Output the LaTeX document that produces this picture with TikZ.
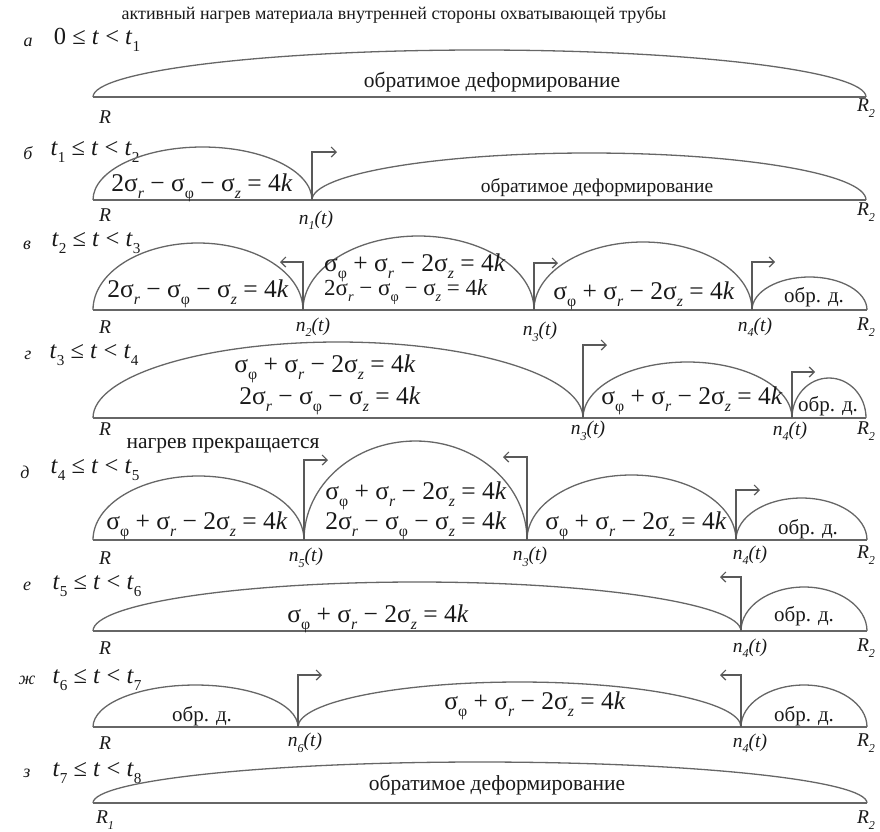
\documentclass[tikz,border=0pt]{standalone}
\usepackage{fontspec}
\setmainfont{Liberation Serif}
\usetikzlibrary{arrows.meta}
\newcommand\lo[1]{\raisebox{-.28em}{\scalebox{.62}{#1}}}
\newcommand\sg[1]{σ\lo{#1}}
\newcommand\fa{2\sg{\textit{r}} − \sg{φ} − \sg{\textit{z}} = 4\textit{k}}
\newcommand\fb{\sg{φ} + \sg{\textit{r}} − 2\sg{\textit{z}} = 4\textit{k}}
\newcommand\ti[1]{\textit{t}\lo{#1}}

\begin{document}
\begin{tikzpicture}[x=1pt, y=-1pt,
  curve/.style={line width=1.3pt, draw=black!60},
  mover/.style={line width=1.2pt, draw=black!65, -{Straight Barb[length=5pt,width=10pt]}},
  txt/.style={font=\fontsize{21.5}{21.5}\selectfont, text=black!90, inner sep=0pt},
  form/.style={font=\fontsize{25.5}{25.5}\selectfont, text=black!90, inner sep=0pt},
  sform/.style={font=\fontsize{23}{23}\selectfont, text=black!90, inner sep=0pt},
  cond/.style={font=\fontsize{24.5}{24.5}\selectfont, text=black!90, inner sep=0pt},
  small/.style={font=\fontsize{21}{21}\selectfont, text=black!90, inner sep=0pt},
  lett/.style={font=\fontsize{18}{18}\selectfont\itshape, text=black!90, inner sep=0pt},
  rlab/.style={font=\fontsize{19.5}{19.5}\selectfont\itshape, text=black!90, inner sep=0pt}]
\useasboundingbox (0,0) rectangle (880,831);
\node[font=\fontsize{18}{18}\selectfont, text=black!90] (title) at (394,15) {активный нагрев материала внутренней стороны охватывающей трубы};
% a
\coordinate (a-R) at (93,97); \coordinate (a-R2) at (866,97);
\node[lett] (a-let) at (28,42) {а};
\node[cond] (a-cond) at (97,40) {0 ≤ \textit{t} < \ti{1}};
\draw[curve] (a-R) -- (a-R2);
\draw[curve] (a-R) arc[start angle=180, end angle=0, x radius=386.5pt, y radius=47pt];
\node[txt] (a-mid) at (492,82) {обратимое деформирование};
\node[rlab] (a-Rt) at (105,117) {R};
\node[rlab] (a-R2t) at (866,108) {R\lo{2}};
% b
\coordinate (b-R) at (93,200); \coordinate (b-n1) at (312,200); \coordinate (b-R2) at (866,200);
\coordinate (b-n1-to) at (337,152);
\node[lett] (b-let) at (28,153) {б};
\node[cond] (b-cond) at (95,152) {\ti{1} ≤ \textit{t} < \ti{2}};
\draw[curve] (b-R) -- (b-R2);
\draw[curve] (b-R) arc[start angle=180, end angle=0, x radius=109.5pt, y radius=53pt];
\draw[curve] (b-n1) arc[start angle=180, end angle=0, x radius=277pt, y radius=47pt];
\draw[mover] (b-n1) |- (b-n1-to);
\node[form] (b-f1) at (202,188) {\fa};
\node[font=\fontsize{19.5}{19.5}\selectfont, text=black!90, inner sep=0pt] (b-mid) at (597,188) {обратимое деформирование};
\node[rlab] (b-Rt) at (105,215) {R};
\node[rlab] (b-n1t) at (316,220) {\textit{n}\lo{1}(\textit{t})};
\node[rlab] (b-R2t) at (866,212) {R\lo{2}};
% v
\coordinate (v-R) at (93,310); \coordinate (v-n2) at (303,310); \coordinate (v-n3) at (534,310);
\coordinate (v-n4) at (752,310); \coordinate (v-R2) at (867,310);
\coordinate (v-n2-to) at (280,262); \coordinate (v-n3-to) at (558,263); \coordinate (v-n4-to) at (775,262);
\node[lett] (v-let) at (27,245) {в};
\node[cond] (v-cond) at (96,243) {\ti{2} ≤ \textit{t} < \ti{3}};
\draw[curve] (v-R) -- (v-R2);
\draw[curve] (v-R) arc[start angle=180, end angle=0, x radius=105pt, y radius=67pt];
\draw[curve] (v-n2) arc[start angle=180, end angle=0, x radius=115.5pt, y radius=74pt];
\draw[curve] (v-n3) arc[start angle=180, end angle=0, x radius=109pt, y radius=68pt];
\draw[curve] (v-n4) arc[start angle=180, end angle=0, x radius=57.5pt, y radius=33pt];
\draw[mover] (v-n2) |- (v-n2-to);
\draw[mover] (v-n3) |- (v-n3-to);
\draw[mover] (v-n4) |- (v-n4-to);
\node[form] (v-f1) at (198,294) {\fa};
\node[form, anchor=west] (v-f2) at (324,268) {\fb};
\node[sform, anchor=west] (v-f3) at (324,292) {\fa};
\node[form] (v-f4) at (644,296) {\fb};
\node[small] (v-od) at (814,297) {обр. д.};
\node[rlab] (v-Rt) at (105,327) {R};
\node[rlab] (v-n2t) at (313,327) {\textit{n}\lo{2}(\textit{t})};
\node[rlab] (v-n3t) at (540,332) {\textit{n}\lo{3}(\textit{t})};
\node[rlab] (v-n4t) at (755,327) {\textit{n}\lo{4}(\textit{t})};
\node[rlab] (v-R2t) at (866,327) {R\lo{2}};
% g
\coordinate (g-R) at (93,418); \coordinate (g-n3) at (583,418); \coordinate (g-n4) at (792,418);
\coordinate (g-R2) at (866,418);
\coordinate (g-n3-to) at (607,345); \coordinate (g-n4-to) at (815,372);
\node[lett] (g-let) at (28,355) {г};
\node[cond] (g-cond) at (94,355) {\ti{3} ≤ \textit{t} < \ti{4}};
\draw[curve] (g-R) -- (g-R2);
\draw[curve] (g-R) arc[start angle=180, end angle=0, x radius=245pt, y radius=76pt];
\draw[curve] (g-n3) arc[start angle=180, end angle=0, x radius=104.5pt, y radius=56pt];
\draw[curve] (g-n4) arc[start angle=180, end angle=0, x radius=37pt, y radius=40pt];
\draw[mover] (g-n3) |- (g-n3-to);
\draw[mover] (g-n4) |- (g-n4-to);
\node[form] (g-f1) at (325,369) {\fb};
\node[form] (g-f2) at (330,401) {\fa};
\node[form] (g-f3) at (692,401) {\fb};
\node[small] (g-od) at (828,406) {обр. д.};
\node[rlab] (g-Rt) at (105,429) {R};
\node[rlab] (g-n3t) at (588,431) {\textit{n}\lo{3}(\textit{t})};
\node[rlab] (g-n4t) at (790,431) {\textit{n}\lo{4}(\textit{t})};
\node[rlab] (g-R2t) at (866,431) {R\lo{2}};
% d
\coordinate (d-R) at (93,540); \coordinate (d-n5) at (304,540); \coordinate (d-n3) at (527,540);
\coordinate (d-n4) at (736,540); \coordinate (d-R2) at (867,540);
\coordinate (d-n5-to) at (328,460); \coordinate (d-n3-to) at (503,457); \coordinate (d-n4-to) at (760,490);
\node[font=\fontsize{21.5}{21.5}\selectfont, text=black!90] (d-stop) at (223,446) {нагрев прекращается};
\node[lett] (d-let) at (25,472) {д};
\node[cond] (d-cond) at (95,470) {\ti{4} ≤ \textit{t} < \ti{5}};
\draw[curve] (d-R) -- (d-R2);
\draw[curve] (d-R) arc[start angle=180, end angle=0, x radius=105.5pt, y radius=64pt];
\draw[curve] (d-n5) arc[start angle=180, end angle=0, x radius=111.5pt, y radius=99pt];
\draw[curve] (d-n3) arc[start angle=180, end angle=0, x radius=104.5pt, y radius=65pt];
\draw[curve] (d-n4) arc[start angle=180, end angle=0, x radius=65.5pt, y radius=42pt];
\draw[mover] (d-n5) |- (d-n5-to);
\draw[mover] (d-n3) |- (d-n3-to);
\draw[mover] (d-n4) |- (d-n4-to);
\node[form] (d-f1) at (197,526) {\fb};
\node[form] (d-f2) at (416,496) {\fb};
\node[form] (d-f3) at (416,526) {\fa};
\node[form] (d-f4) at (636,526) {\fb};
\node[small] (d-od) at (808,529) {обр. д.};
\node[rlab] (d-Rt) at (105,558) {R};
\node[rlab] (d-n5t) at (306,558) {\textit{n}\lo{5}(\textit{t})};
\node[rlab] (d-n3t) at (530,557) {\textit{n}\lo{3}(\textit{t})};
\node[rlab] (d-n4t) at (750,555) {\textit{n}\lo{4}(\textit{t})};
\node[rlab] (d-R2t) at (866,555) {R\lo{2}};
% e
\coordinate (e-R) at (93,631); \coordinate (e-n4) at (741,631); \coordinate (e-R2) at (867,631);
\coordinate (e-n4-to) at (720,577);
\node[lett] (e-let) at (27,586) {е};
\node[cond] (e-cond) at (97,586) {\ti{5} ≤ \textit{t} < \ti{6}};
\draw[curve] (e-R) -- (e-R2);
\draw[curve] (e-R) arc[start angle=180, end angle=0, x radius=324pt, y radius=49pt];
\draw[curve] (e-n4) arc[start angle=180, end angle=0, x radius=63pt, y radius=44pt];
\draw[mover] (e-n4) |- (e-n4-to);
\node[form] (e-f1) at (378,619) {\fb};
\node[small] (e-od) at (804,616) {обр. д.};
\node[rlab] (e-Rt) at (105,648) {R};
\node[rlab] (e-n4t) at (750,648) {\textit{n}\lo{4}(\textit{t})};
\node[rlab] (e-R2t) at (866,648) {R\lo{2}};
% zh
\coordinate (zh-R) at (93,727); \coordinate (zh-n6) at (298,727); \coordinate (zh-n4) at (741,727);
\coordinate (zh-R2) at (867,727);
\coordinate (zh-n6-to) at (322,675); \coordinate (zh-n4-to) at (720,675);
\node[lett] (zh-let) at (27,680) {ж};
\node[cond] (zh-cond) at (97,680) {\ti{6} ≤ \textit{t} < \ti{7}};
\draw[curve] (zh-R) -- (zh-R2);
\draw[curve] (zh-R) arc[start angle=180, end angle=0, x radius=102.5pt, y radius=42pt];
\draw[curve] (zh-n6) arc[start angle=180, end angle=0, x radius=221.5pt, y radius=45pt];
\draw[curve] (zh-n4) arc[start angle=180, end angle=0, x radius=63pt, y radius=42pt];
\draw[mover] (zh-n6) |- (zh-n6-to);
\draw[mover] (zh-n4) |- (zh-n4-to);
\node[small] (zh-od1) at (202,716) {обр. д.};
\node[form] (zh-f1) at (535,706) {\fb};
\node[small] (zh-od2) at (804,716) {обр. д.};
\node[rlab] (zh-Rt) at (105,743) {R};
\node[rlab] (zh-n6t) at (305,743) {\textit{n}\lo{6}(\textit{t})};
\node[rlab] (zh-n4t) at (750,743) {\textit{n}\lo{4}(\textit{t})};
\node[rlab] (zh-R2t) at (866,743) {R\lo{2}};
% z
\coordinate (z-R1) at (93,803); \coordinate (z-R2) at (867,803);
\node[lett] (z-let) at (27,773) {з};
\node[cond] (z-cond) at (97,773) {\ti{7} ≤ \textit{t} < \ti{8}};
\draw[curve] (z-R1) -- (z-R2);
\draw[curve] (z-R1) arc[start angle=180, end angle=0, x radius=387pt, y radius=41pt];
\node[txt] (z-mid) at (497,785) {обратимое деформирование};
\node[rlab] (z-R1t) at (105,820) {R\lo{1}};
\node[rlab] (z-R2t) at (866,820) {R\lo{2}};
\end{tikzpicture}
\end{document}
